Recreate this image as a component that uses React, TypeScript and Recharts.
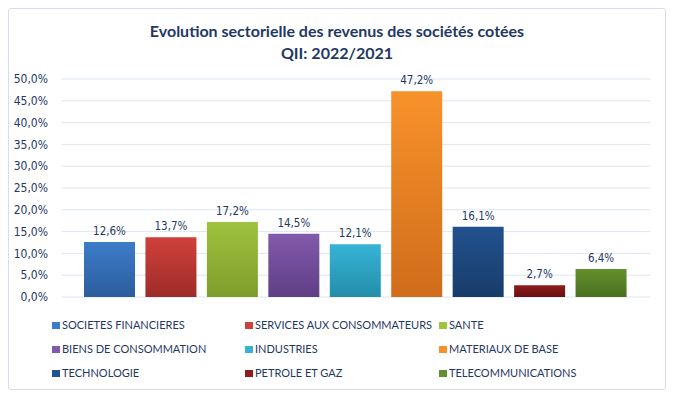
import React from "react";
import { BarChart, Bar, XAxis, YAxis, CartesianGrid, Cell, LabelList } from "recharts";

const sectors = [
  "SOCIETES FINANCIERES",
  "SERVICES AUX CONSOMMATEURS",
  "SANTE",
  "BIENS DE CONSOMMATION",
  "INDUSTRIES",
  "MATERIAUX DE BASE",
  "TECHNOLOGIE",
  "PETROLE ET GAZ",
  "TELECOMMUNICATIONS",
];
const growth = [12.6, 13.7, 17.2, 14.5, 12.1, 47.2, 16.1, 2.7, 6.4];
const yTicks = [0, 5, 10, 15, 20, 25, 30, 35, 40, 45, 50];
// top / bottom of each bar gradient
const colorsTop = ["#3d7cc9", "#d0403a", "#9fc23f", "#8259ab", "#36b4d6", "#f7922b", "#22528f", "#8e1c1c", "#62902c"];
const colorsBottom = ["#2c5d9c", "#9e2c28", "#7e9c2c", "#603f85", "#248dab", "#d06c1a", "#173c69", "#6a1111", "#4a7020"];

const FONT = "'DejaVu Sans Condensed', 'Liberation Sans', sans-serif";
const FONT2 = "Lato, 'Liberation Sans', sans-serif";
const TEXT = "#1f3864";
const legendX = [43, 236, 430];

const data = sectors.map((name, i) => ({ name, value: growth[i] }));

const fmt = (v: number) => v.toFixed(1).replace(".", ",") + "%";

export default function App() {
  return (
    <div
      style={{
        position: "relative",
        width: 656,
        height: 380,
        border: "1px solid #d5dfec",
        borderRadius: 3,
        fontFamily: FONT,
        background: "#fff",
      }}
    >
      <div
        style={{
          position: "absolute",
          top: 11,
          left: 0,
          width: "100%",
          textAlign: "center",
          color: TEXT,
          fontFamily: FONT2,
          fontWeight: "bold",
          fontSize: 16,
          lineHeight: "22px",
        }}
      >
        Evolution sectorielle des revenus des sociétés cotées
        <br />
        QII: 2022/2021
      </div>
      <BarChart width={656} height={380} data={data} margin={{ top: 70, right: 15, bottom: 92, left: 0 }}>
        <defs>
          {colorsTop.map((c, i) => (
            <linearGradient key={i} id={"g" + i} x1="0" y1="0" x2="0" y2="1">
              <stop offset="0%" stopColor={c} />
              <stop offset="100%" stopColor={colorsBottom[i]} />
            </linearGradient>
          ))}
        </defs>
        <CartesianGrid vertical={false} stroke="#dce6f2" />
        <XAxis dataKey="name" hide padding={{ left: 17, right: 18 }} />
        <YAxis
          width={53}
          domain={[0, 50]}
          ticks={yTicks}
          tickFormatter={fmt}
          axisLine={false}
          tickLine={false}
          tickSize={0}
          tickMargin={14}
          tick={{ fill: TEXT, fontSize: 12, fontFamily: FONT }}
          interval={0}
        />
        <Bar dataKey="value" barSize={51} isAnimationActive={false}>
          {data.map((d, i) => (
            <Cell key={d.name} fill={`url(#g${i})`} />
          ))}
          <LabelList
            dataKey="value"
            position="top"
            offset={7}
            formatter={(v: any) => fmt(Number(v))}
            style={{ fill: TEXT, fontSize: 11.5, fontFamily: FONT }}
          />
        </Bar>
      </BarChart>
      <div style={{ position: "absolute", left: 0, top: 0 }}>
        {sectors.map((s, i) => {
          const col = i % 3;
          const row = Math.floor(i / 3);
          return (
            <div
              key={s}
              style={{
                position: "absolute",
                left: legendX[col],
                top: 308 + row * 24,
                display: "flex",
                alignItems: "center",
                whiteSpace: "nowrap",
                color: TEXT,
                fontFamily: FONT2,
                fontSize: 11,
                lineHeight: "16px",
              }}
            >
              <span
                style={{
                  display: "inline-block",
                  width: 8,
                  height: 7,
                  marginRight: 2,
                  background: colorsTop[i],
                }}
              />
              {s}
            </div>
          );
        })}
      </div>
    </div>
  );
}
